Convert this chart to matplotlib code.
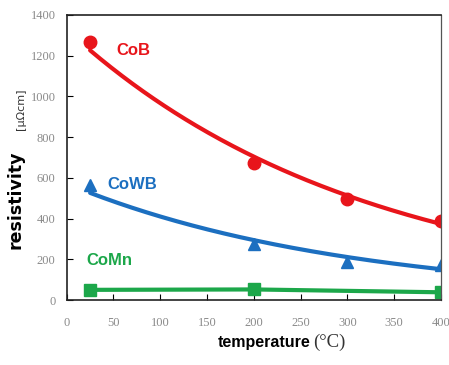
import numpy as np
import matplotlib
matplotlib.use("Agg")
import matplotlib.pyplot as plt

temp_cob = [25, 200, 300, 400]
res_cob = [1265, 675, 497, 390]
temp_cowb = [25, 200, 300, 400]
res_cowb = [565, 275, 185, 172]
temp_comn = [25, 200, 400]
res_comn = [50, 52, 38]
xticks = [0, 50, 100, 150, 200, 250, 300, 350, 400]
yticks = [0, 200, 400, 600, 800, 1000, 1200, 1400]

red = "#e8151b"
blue = "#1c6fc0"
green = "#1ca74a"

fig = plt.figure(figsize=(4.49, 3.65), dpi=100)
ax = fig.add_axes([0.1486, 0.178, 0.8334, 0.781])

def expfit(x, y):
    x = np.asarray(x, float); y = np.asarray(y, float)
    b, a = np.polyfit(x, np.log(y), 1)
    xs = np.linspace(x.min(), x.max(), 200)
    return xs, np.exp(a + b * xs)

xs, ys = expfit(temp_cob, res_cob)
ax.plot(xs, ys, color=red, lw=3, solid_capstyle="round")
ax.plot(temp_cob, res_cob, "o", color=red, ms=9, ls="none")

xs, ys = expfit(temp_cowb, res_cowb)
ax.plot(xs, ys, color=blue, lw=3, solid_capstyle="round")
ax.plot(temp_cowb, res_cowb, "^", color=blue, ms=8, ls="none")

ax.plot(temp_comn, res_comn, "-", color=green, lw=3)
ax.plot(temp_comn, res_comn, "s", color=green, ms=9, ls="none")

lab_font = "Liberation Sans"
ax.text(53, 1225, "CoB", color=red, fontsize=12, fontweight="bold", va="center", family=lab_font)
ax.text(43, 565, "CoWB", color=blue, fontsize=12, fontweight="bold", va="center", family=lab_font)
ax.text(21, 195, "CoMn", color=green, fontsize=12, fontweight="bold", va="center", family=lab_font)

ax.set_xlim(0, 400)
ax.set_ylim(0, 1400)
ax.set_xticks(xticks)
ax.set_yticks(yticks)
ax.tick_params(direction="in", length=4, width=0.8, labelsize=9, labelcolor="#8a8a8a")
ax.tick_params(axis="x", pad=12)
ax.tick_params(axis="y", pad=8)
for lab in ax.get_xticklabels() + ax.get_yticklabels():
    lab.set_family("Liberation Serif")
for name, sp in ax.spines.items():
    sp.set_linewidth(1.2)
    sp.set_color("#222222")
ax.spines["right"].set_linewidth(0.9)
ax.spines["right"].set_color("#555555")

fig.text(0.035, 0.452, "resistivity", rotation=90, fontsize=12.5, fontweight="bold", ha="center", va="center")
fig.text(0.047, 0.70, "[μΩcm]", rotation=90, fontsize=8, ha="center", va="center", color="#333333")
fig.text(0.484, 0.063, "temperature", fontsize=11.5, fontweight="bold", ha="left", va="center", family=lab_font)
fig.text(0.697, 0.063, "(°C)", fontsize=13.5, ha="left", va="center", family="Liberation Serif", color="#333333")

fig.savefig("out.png", dpi=100)
